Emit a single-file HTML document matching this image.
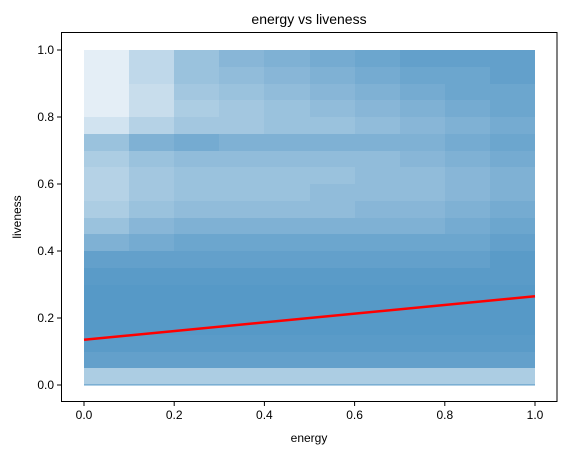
<!DOCTYPE html>
<html><head><meta charset="utf-8"><style>
body{margin:0;background:#fff;width:567px;height:455px;overflow:hidden}
svg{font-family:"Liberation Sans",sans-serif}
</style></head><body>
<svg id="chart" width="567" height="455"></svg>
<script>
// data: density grid (rows = liveness bins from 1.0 downward, step 0.05; cols = energy bins step 0.1)
const yBinTops = [1.0,0.95,0.9,0.85,0.8,0.75,0.7,0.65,0.6,0.55,0.5,0.45,0.4,0.35,0.3,0.25,0.2,0.15,0.1,0.05];
const xBinStarts = [0,0.1,0.2,0.3,0.4,0.5,0.6,0.7,0.8,0.9];
const density = [
 [0.15,0.35,0.55,0.65,0.7,0.75,0.8,0.85,0.85,0.85],
 [0.15,0.35,0.55,0.6,0.65,0.7,0.75,0.8,0.8,0.85],
 [0.15,0.3,0.5,0.55,0.6,0.65,0.7,0.75,0.8,0.8],
 [0.15,0.3,0.45,0.5,0.55,0.6,0.65,0.7,0.75,0.8],
 [0.25,0.4,0.5,0.5,0.55,0.55,0.6,0.65,0.7,0.75],
 [0.55,0.7,0.75,0.7,0.7,0.7,0.7,0.7,0.75,0.8],
 [0.45,0.55,0.6,0.6,0.6,0.6,0.6,0.65,0.7,0.75],
 [0.4,0.5,0.55,0.55,0.55,0.55,0.6,0.6,0.65,0.7],
 [0.4,0.5,0.55,0.55,0.55,0.6,0.6,0.6,0.65,0.7],
 [0.45,0.55,0.6,0.6,0.6,0.6,0.65,0.65,0.7,0.75],
 [0.55,0.65,0.7,0.7,0.7,0.7,0.7,0.7,0.75,0.8],
 [0.7,0.75,0.8,0.8,0.8,0.8,0.8,0.8,0.8,0.85],
 [0.85,0.85,0.85,0.85,0.85,0.85,0.85,0.85,0.85,0.9],
 [0.9,0.9,0.9,0.9,0.9,0.9,0.9,0.9,0.9,0.9],
 [0.92,0.92,0.92,0.92,0.92,0.92,0.92,0.92,0.92,0.92],
 [0.92,0.92,0.92,0.92,0.92,0.92,0.92,0.92,0.92,0.92],
 [0.92,0.92,0.92,0.92,0.92,0.92,0.92,0.92,0.92,0.92],
 [0.9,0.9,0.9,0.9,0.9,0.9,0.9,0.9,0.9,0.9],
 [0.85,0.85,0.85,0.85,0.85,0.85,0.85,0.85,0.85,0.85],
 [0.45,0.45,0.45,0.45,0.45,0.45,0.45,0.45,0.45,0.45]
];
const zeroRowDensity = 0.35;
const fitIntercept = 0.135;
const fitSlope = 0.13;
const xTicks = [0.0,0.2,0.4,0.6,0.8,1.0];
const yTicks = [0.0,0.2,0.4,0.6,0.8,1.0];

const svg = document.getElementById('chart');
const NS = 'http://www.w3.org/2000/svg';
const X = v => 84 + v*451;
const Y = v => 385 - v*335;
const OPACITY_SCALE = 0.82;
function mk(tag, attrs){const e=document.createElementNS(NS,tag);for(const k in attrs)e.setAttribute(k,attrs[k]);svg.appendChild(e);return e;}

density.forEach((row,ri)=>{
  row.forEach((d,ci)=>{
    const top=yBinTops[ri], x0=xBinStarts[ci];
    const x1=Math.round(X(x0)), x2=Math.round(X(x0+0.1));
    const y1=Math.round(Y(top)), y2=Math.round(Y(top-0.05));
    const r=mk('rect',{x:x1,y:y1,width:x2-x1,height:y2-y1,fill:'#1f77b4','fill-opacity':d*OPACITY_SCALE,'shape-rendering':'crispEdges'});
    
    
  });
});
const zr=mk('rect',{x:X(0),y:Y(0)-1,width:X(1)-X(0),height:2,fill:'#1f77b4','fill-opacity':zeroRowDensity});



const fl=mk('line',{x1:X(0),y1:Y(fitIntercept),x2:X(1),y2:Y(fitIntercept+fitSlope),stroke:'#ff0000','stroke-width':2.5});



const fr=mk('rect',{x:61.5,y:32.5,width:495.5,height:369,fill:'none',stroke:'#000','stroke-width':1});



xTicks.forEach(t=>{
  const l=mk('line',{x1:X(t),y1:401.5,x2:X(t),y2:406,stroke:'#000'});
  
  
  const tx=mk('text',{x:X(t),y:419,'font-size':12,'text-anchor':'middle',fill:'#000'});
  tx.textContent=t.toFixed(1);
  
  
});
yTicks.forEach(t=>{
  const l=mk('line',{x1:57,y1:Y(t),x2:61.5,y2:Y(t),stroke:'#000'});
  
  
  const tx=mk('text',{x:54,y:Y(t)+4,'font-size':12,'text-anchor':'end',fill:'#000'});
  tx.textContent=t.toFixed(1);
  
  
});
const xt=mk('text',{x:309,y:442,'font-size':12,'text-anchor':'middle'});xt.textContent='energy';


const yt=mk('text',{x:0,y:0,'font-size':12,'text-anchor':'middle',transform:'translate(21,217) rotate(-90)'});yt.textContent='liveness';


const tt=mk('text',{x:309,y:24,'font-size':14,'text-anchor':'middle'});tt.textContent='energy vs liveness';


</script>
</body></html>
